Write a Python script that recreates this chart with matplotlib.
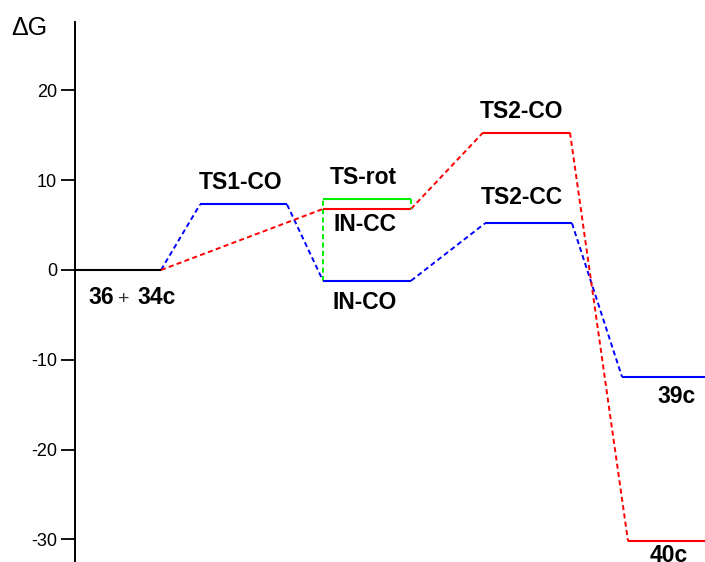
import matplotlib
matplotlib.use("Agg")
import matplotlib.pyplot as plt

# free energies
states = ["36 + 34c", "TS1-CO", "IN-CO", "TS-rot", "IN-CC", "TS2-CO", "TS2-CC", "39c", "40c"]
energies = [0.0, 7.3, -1.2, 7.9, 6.8, 15.3, 5.2, -11.9, -30.2]
colors = ["black", "blue", "blue", "#00ee00", "red", "red", "blue", "blue", "red"]

blue_path = ["36 + 34c", "TS1-CO", "IN-CO", "TS2-CC", "39c"]
red_path = ["36 + 34c", "IN-CC", "TS2-CO", "40c"]

yticks = [-30, -20, -10, 0, 10, 20]

# layout (x in pixel-like units from the axis)
slots = {
    "36 + 34c": (0, 86), "TS1-CO": (125, 212), "IN-CO": (248, 336),
    "TS-rot": (248, 336), "IN-CC": (248, 336), "TS2-CO": (408, 495),
    "TS2-CC": (410, 497), "39c": (547, 630), "40c": (553, 630),
}
# label centre x and vertical offset in px (negative = above)
label_pos = {
    "TS1-CO": (166, -22), "IN-CO": (290, 22), "TS-rot": (288, -22),
    "IN-CC": (290, 16), "TS2-CO": (447, -21), "TS2-CC": (447, -26),
    "39c": (602, 20), "40c": (594, 14),
}

plt.rcParams["font.family"] = ["Liberation Sans", "DejaVu Sans"]

fig = plt.figure(figsize=(7.05, 5.62), dpi=100)
ax = fig.add_axes([75 / 705, 0, 630 / 705, 540 / 562])
px = 8.98  # px per kcal/mol
ax.set_ylim(-292 / px, 248 / px)
ax.set_xlim(0, 630)

E = dict(zip(states, energies))
C = dict(zip(states, colors))

# levels
for s in states:
    x0, x1 = slots[s]
    ax.plot([x0, x1], [E[s], E[s]], color=C[s], lw=1.5, solid_capstyle="butt", clip_on=False, zorder=3)

dash = dict(lw=1.4, dashes=(2.6, 1.7), clip_on=False, zorder=2)

def connect(path, color):
    for a, b in zip(path[:-1], path[1:]):
        ax.plot([slots[a][1], slots[b][0]], [E[a], E[b]], color=color, **dash)

connect(blue_path, "blue")
connect(red_path, "red")
# rotation: IN-CO -> TS-rot (left edge), TS-rot -> IN-CC (right edge)
ax.plot([slots["IN-CO"][0]] * 2, [E["IN-CO"], E["TS-rot"]], color="#00ee00", **dash)
ax.plot([slots["TS-rot"][1]] * 2, [E["TS-rot"], E["IN-CC"]], color="#00ee00", **dash)

# labels
for s, (xc, dy) in label_pos.items():
    ax.annotate(s, (xc, E[s]), xytext=(0, -dy * 0.72), textcoords="offset points",
                ha="center", va="center", fontsize=16.5, fontweight="bold", annotation_clip=False)
ax.annotate("36", (13, 0), xytext=(0, -28 * 0.72), textcoords="offset points",
            ha="left", va="center", fontsize=16.5, fontweight="bold")
ax.annotate("+", (49, 0), xytext=(0, -29 * 0.72), textcoords="offset points",
            ha="center", va="center", fontsize=14, color="#333333")
ax.annotate("34c", (62, 0), xytext=(0, -28 * 0.72), textcoords="offset points",
            ha="left", va="center", fontsize=16.5, fontweight="bold")

# axis styling
for side in ["top", "right", "bottom"]:
    ax.spines[side].set_visible(False)
ax.spines["left"].set_linewidth(1.4)
ax.set_xticks([])
ax.set_yticks(yticks)
ax.set_yticklabels([str(t) for t in yticks], fontsize=13)
ax.tick_params(axis="y", direction="out", length=10, width=1.3, pad=3)

fig.text(11 / 705, 1 - 28 / 562, "\u0394G", fontsize=18, ha="left", va="center")

fig.savefig("out.png", dpi=100)
